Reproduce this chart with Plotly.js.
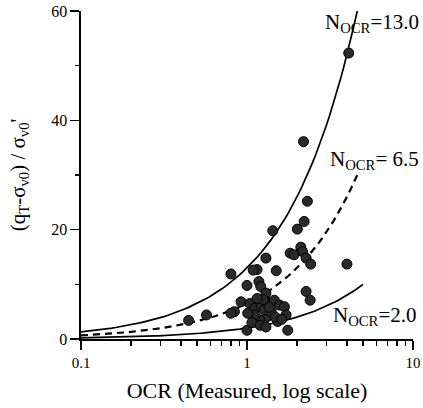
<!DOCTYPE html>
<html><head><meta charset="utf-8">
<script src="https://cdn.plot.ly/plotly-3.0.1.min.js"></script>
<style>body{margin:0;background:#fff}#c{width:423px;height:408px}</style>
</head><body><div id="c"></div>
<script>
const ocr = [4.1,2.19,4.0,2.31,2.21,2.01,1.43,2.11,2.16,1.82,1.92,2.27,2.42,1.30,1.15,1.09,1.50,0.80,1.0,1.18,1.21,1.30,2.27,2.40,0.92,
  1.04,1.11,1.22,1.33,1.46,1.57,1.68,1.72,1.53,1.33,1.19,1.11,1.01,1.27,1.40,0.84,0.80,1.0,1.76,0.57,0.445,1.25,1.36,1.15,1.48,1.62,1.07,1.20,1.30];
const ratio = [52.3,36.1,13.7,25.2,21.5,20.1,19.8,16.8,16.0,15.7,15.4,14.8,13.7,14.8,12.7,12.6,12.5,11.9,9.8,10.5,9.6,8.4,8.7,7.1,6.8,
  6.5,5.6,6.2,6.8,7.1,6.2,5.9,4.4,3.2,4.1,3.5,4.4,4.7,5.3,5.0,5.0,4.7,1.6,1.6,4.4,3.4,7.2,5.8,7.4,4.0,3.6,3.0,2.5,2.2];
// Correlation factors N_OCR and extent of each drawn line
const nOcr = [13.0, 6.5, 2.0];
const lineEnd = [4.62, 4.62, 5.0];
const lineDash = ['solid', '7px,5px', 'solid'];
const labels = ['N<sub>OCR</sub>=13.0', 'N<sub>OCR</sub>= 6.5', 'N<sub>OCR</sub>=2.0'];

const traces = [];
nOcr.forEach((n, i) => {
  const xs = [], ys = [];
  const steps = 80;
  for (let k = 0; k <= steps; k++) {
    const x = Math.pow(10, -1 + (Math.log10(lineEnd[i]) + 1) * k / steps);
    xs.push(x); ys.push(n * x);
  }
  traces.push({x: xs, y: ys, mode: 'lines', line: {color: '#000', width: i === 1 ? 2.2 : 1.7, dash: lineDash[i]}, hoverinfo: 'skip'});
});
traces.push({x: ocr, y: ratio, mode: 'markers', cliponaxis: false,
  marker: {size: 10, color: '#2a2a2a', line: {color: '#000', width: 1}}});

const serif = 'Liberation Serif, Times New Roman, serif';
const layout = {
  width: 423, height: 408, showlegend: false,
  paper_bgcolor: '#fff', plot_bgcolor: '#fff',
  margin: {l: 81, r: 10, t: 11, b: 69},
  font: {family: serif, color: '#000'},
  xaxis: {type: 'log', range: [-1, 1], showgrid: false, zeroline: false,
    showline: true, linecolor: '#000', linewidth: 1.6, mirror: false,
    ticks: 'outside', ticklen: 9, tickwidth: 1.6, tickcolor: '#000',
    tickvals: [0.1, 1, 10], ticktext: ['0.1', '1', '10'],
    minor: {ticks: 'outside', ticklen: 5, tickwidth: 1.3, tickcolor: '#000', tickvals: [0.2,0.3,0.4,0.5,0.6,0.7,0.8,0.9,2,3,4,5,6,7,8,9]},
    tickfont: {size: 15, family: serif, color: '#000'},
    title: {text: 'OCR (Measured, log scale)', font: {size: 22, family: serif, color: '#000'}, standoff: 13}},
  yaxis: {range: [0, 60], showgrid: false, zeroline: false,
    showline: true, linecolor: '#000', linewidth: 1.6,
    ticks: 'outside', ticklen: 9, tickwidth: 1.6, tickcolor: '#000',
    tickvals: [0, 20, 40, 60],
    minor: {ticks: 'outside', ticklen: 4, tickwidth: 1.3, tickcolor: '#000', tickvals: [10, 30, 50]},
    tickfont: {size: 16, family: serif, color: '#000'},
    title: {text: '(q<sub>T</sub>-σ<sub>v0</sub>) / σ<sub>v0</sub>\'', font: {size: 21, family: serif, color: '#000'}, standoff: 20}},
  annotations: [
    {xref: 'paper', yref: 'paper', x: 1.025, y: 0.963, xanchor: 'right', yanchor: 'middle', text: labels[0], showarrow: false, font: {size: 21, family: serif, color: '#000'}},
    {xref: 'paper', yref: 'paper', x: 1.025, y: 0.545, xanchor: 'right', yanchor: 'middle', text: labels[1], showarrow: false, font: {size: 21, family: serif, color: '#000'}},
    {xref: 'paper', yref: 'paper', x: 1.015, y: 0.07, xanchor: 'right', yanchor: 'middle', text: labels[2], showarrow: false, font: {size: 21, family: serif, color: '#000'}}
  ]
};
Plotly.newPlot('c', traces, layout, {staticPlot: true});
</script></body></html>
